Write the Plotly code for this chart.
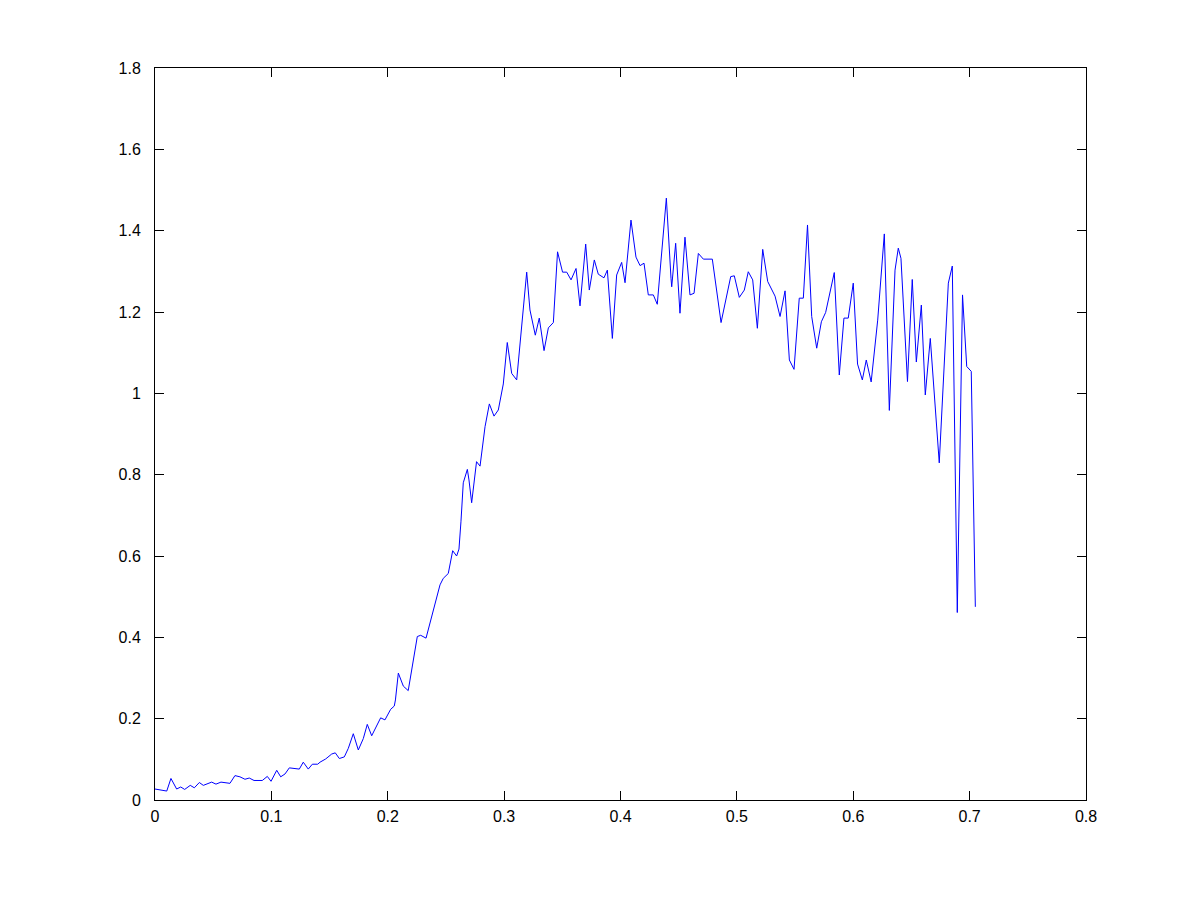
import plotly.graph_objects as go

x_vals = [0.0, 0.0028, 0.0101, 0.0137, 0.0186, 0.0221, 0.0255, 0.0303, 0.0338, 0.0381,
          0.0415, 0.0487, 0.0524, 0.0567, 0.0644, 0.0687, 0.0730, 0.0773, 0.0810, 0.0851,
          0.0922, 0.0965, 0.0997, 0.1046, 0.1080, 0.1117, 0.1154, 0.1240, 0.1274, 0.1317,
          0.1352, 0.1398, 0.1418, 0.1467, 0.1518, 0.1549, 0.1584, 0.1627, 0.1661, 0.1704,
          0.1747, 0.1790, 0.1824, 0.1862, 0.1939, 0.1976, 0.2025, 0.2056, 0.2066, 0.2091,
          0.2134, 0.2176, 0.2254, 0.2283, 0.2329, 0.2449, 0.2477, 0.2520, 0.2558, 0.2592,
          0.2612, 0.2629, 0.2649, 0.2684, 0.2698, 0.2721, 0.2763, 0.2793, 0.2836, 0.2873,
          0.2913, 0.2950, 0.2993, 0.3027, 0.3065, 0.3108, 0.3165, 0.3194, 0.3222, 0.3268,
          0.3302, 0.3343, 0.3380, 0.3423, 0.3459, 0.3502, 0.3538, 0.3575, 0.3618, 0.3652,
          0.3701, 0.3732, 0.3775, 0.3809, 0.3858, 0.3887, 0.3930, 0.3967, 0.4010, 0.4039,
          0.4090, 0.4133, 0.4168, 0.4202, 0.4239, 0.4282, 0.4316, 0.4394, 0.4434, 0.4440,
          0.4474, 0.4511, 0.4554, 0.4597, 0.4632, 0.4669, 0.4712, 0.4789, 0.4864, 0.4947,
          0.4978, 0.5021, 0.5064, 0.5098, 0.5136, 0.5176, 0.5222, 0.5265, 0.5328, 0.5371,
          0.5414, 0.5451, 0.5491, 0.5536, 0.5571, 0.5607, 0.5643, 0.5686, 0.5726, 0.5763,
          0.5837, 0.5880, 0.5920, 0.5957, 0.6000, 0.6037, 0.6078, 0.6112, 0.6154, 0.6210,
          0.6267, 0.6310, 0.6359, 0.6387, 0.6410, 0.6466, 0.6507, 0.6542, 0.6585, 0.6619,
          0.6662, 0.6739, 0.6817, 0.6851, 0.6894, 0.6939, 0.6975, 0.7014, 0.7049]

y_vals = [0.027, 0.026, 0.022, 0.053, 0.027, 0.032, 0.026, 0.036, 0.030, 0.043,
          0.036, 0.044, 0.039, 0.044, 0.041, 0.060, 0.057, 0.051, 0.054, 0.048,
          0.048, 0.058, 0.046, 0.073, 0.057, 0.064, 0.079, 0.076, 0.093, 0.076,
          0.088, 0.088, 0.093, 0.101, 0.113, 0.116, 0.102, 0.106, 0.127, 0.163,
          0.123, 0.151, 0.186, 0.158, 0.202, 0.197, 0.223, 0.231, 0.246, 0.312,
          0.280, 0.269, 0.402, 0.405, 0.398, 0.529, 0.545, 0.557, 0.613, 0.600,
          0.617, 0.684, 0.780, 0.813, 0.787, 0.731, 0.832, 0.821, 0.918, 0.974,
          0.944, 0.959, 1.023, 1.125, 1.049, 1.033, 1.205, 1.298, 1.205, 1.143,
          1.185, 1.105, 1.161, 1.174, 1.348, 1.298, 1.298, 1.279, 1.307, 1.215,
          1.367, 1.254, 1.328, 1.293, 1.284, 1.303, 1.135, 1.291, 1.322, 1.272,
          1.426, 1.335, 1.314, 1.320, 1.242, 1.242, 1.219, 1.480, 1.283, 1.262,
          1.369, 1.197, 1.384, 1.242, 1.246, 1.344, 1.330, 1.330, 1.174, 1.287,
          1.289, 1.236, 1.254, 1.299, 1.279, 1.160, 1.354, 1.275, 1.239, 1.189,
          1.252, 1.082, 1.059, 1.234, 1.234, 1.414, 1.189, 1.111, 1.176, 1.199,
          1.297, 1.045, 1.185, 1.185, 1.271, 1.072, 1.033, 1.082, 1.028, 1.180,
          1.392, 0.958, 1.303, 1.357, 1.332, 1.029, 1.280, 1.077, 1.217, 0.996,
          1.135, 0.829, 1.271, 1.313, 0.461, 1.242, 1.066, 1.054, 0.475]

x_ticks = [0, 0.1, 0.2, 0.3, 0.4, 0.5, 0.6, 0.7, 0.8]
x_labels = ["0", "0.1", "0.2", "0.3", "0.4", "0.5", "0.6", "0.7", "0.8"]
y_ticks = [0, 0.2, 0.4, 0.6, 0.8, 1.0, 1.2, 1.4, 1.6, 1.8]
y_labels = ["0", "0.2", "0.4", "0.6", "0.8", "1", "1.2", "1.4", "1.6", "1.8"]

fig = go.Figure()
fig.add_trace(go.Scatter(x=x_vals, y=y_vals, mode="lines",
                         line=dict(color="rgb(0,0,255)", width=1),
                         showlegend=False, hoverinfo="skip"))

axis_common = dict(
    showgrid=False, zeroline=False, showline=True, linecolor="black", linewidth=1,
    mirror="ticks", ticks="inside", ticklen=9, tickwidth=1, tickcolor="black",
    tickfont=dict(family="Liberation Sans, Arial, sans-serif", size=16, color="black"),
)

fig.update_xaxes(range=[0, 0.8], tickvals=x_ticks, ticktext=x_labels,
                 ticklabelstandoff=2, **axis_common)
fig.update_yaxes(range=[0, 1.8], tickvals=y_ticks, ticktext=y_labels,
                 ticklabelstandoff=10, **axis_common)

fig.update_layout(
    width=1200, height=900,
    margin=dict(l=147, r=122, t=60, b=108),
    paper_bgcolor="white", plot_bgcolor="white",
)

fig.write_html("out.html")
